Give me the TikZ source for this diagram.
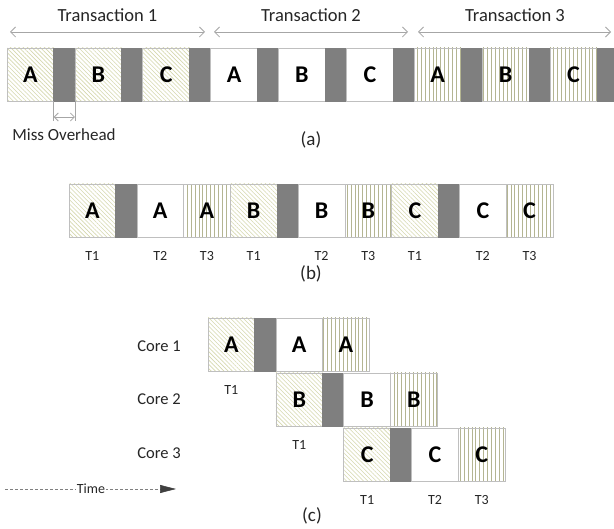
\documentclass[tikz,border=0pt]{standalone}
\usepackage{fontspec}
\setmainfont{Carlito}
\usetikzlibrary{arrows.meta,patterns.meta}

\definecolor{hatchc}{HTML}{D6D8AE}
\definecolor{stripec}{HTML}{B4B592}
\definecolor{missc}{HTML}{7F7F7F}
\definecolor{edgec}{HTML}{BFBFBF}
\definecolor{spanc}{HTML}{A6A6A6}
\definecolor{timec}{HTML}{808080}
\definecolor{tipc}{HTML}{404040}

\tikzset{
  blk/.style={draw=edgec, line width=0.8pt, minimum width=46.7pt, minimum height=53pt,
    anchor=north west, inner sep=0pt, outer sep=0pt,
    font=\fontsize{24}{24}\selectfont\bfseries},
  hatchblk/.style={blk, pattern={Lines[angle=-45,distance=3pt,line width=0.6pt]}, pattern color=hatchc},
  plainblk/.style={blk, fill=white},
  stripeblk/.style={blk, pattern={Lines[angle=90,distance=3.9pt,line width=0.7pt]}, pattern color=stripec},
  missblk/.style={blk, fill=missc, draw=missc, minimum width=21.2pt},
  spanarrow/.style={draw=spanc, line width=0.8pt,
    {Straight Barb[length=5pt,width=10pt]}-{Straight Barb[length=5pt,width=10pt]}},
  ticklink/.style={draw=spanc, line width=0.8pt},
  ttl/.style={font=\fontsize{18.5}{20}\selectfont, text=black!85},
  lbl/.style={font=\fontsize{17}{18}\selectfont, text=black!85},
  corelbl/.style={font=\fontsize{16.5}{18}\selectfont, text=black!85},
  tlbl/.style={font=\fontsize{14}{15}\selectfont, text=black!85},
  subcap/.style={font=\fontsize{19}{20}\selectfont, text=black!85},
}

\begin{document}
\begin{tikzpicture}[x=1pt,y=-1pt]
\useasboundingbox[fill=white] (0,0) rectangle (614,529);

% ---------- (a) three transactions run one after another ----------
\foreach \i/\t/\s in {0/A/hatchblk,1/B/hatchblk,2/C/hatchblk,
                      3/A/plainblk,4/B/plainblk,5/C/plainblk,
                      6/A/stripeblk,7/B/stripeblk,8/C/stripeblk}{
  \node[\s] (a\i) at ({7+67.9*\i},48) {\t};
  \node[missblk] (am\i) at ({53.7+67.9*\i},48) {};
}

\node[ttl] (tt1) at (107.5,15) {Transaction 1};
\node[ttl] (tt2) at (311,15) {Transaction 2};
\node[ttl] (tt3) at (515,15) {Transaction 3};
\coordinate (s1a) at (10,32);  \coordinate (s1b) at (205,32);
\coordinate (s2a) at (214,32); \coordinate (s2b) at (408,32);
\coordinate (s3a) at (418,32); \coordinate (s3b) at (611,32);
\draw[spanarrow] (s1a) -- (s1b);
\draw[spanarrow] (s2a) -- (s2b);
\draw[spanarrow] (s3a) -- (s3b);

% miss overhead marker
\draw[ticklink] (am0.south west) -- +(0,20);
\draw[ticklink] (am0.south east) -- +(0,20);
\draw[spanarrow, {Straight Barb[length=4pt,width=8pt]}-{Straight Barb[length=4pt,width=8pt]}]
  ([yshift=-16pt]am0.south west) -- ([yshift=-16pt]am0.south east);
\node[lbl] (mo) at (64,135) {Miss Overhead};
\node[subcap] (capa) at (311,140) {(a)};

% ---------- (b) interleaved on one core ----------
\foreach \g/\t in {0/A,1/B,2/C}{
  \pgfmathsetmacro{\xo}{69+161.3*\g}
  \node[hatchblk] (bh\g) at (\xo,184) {\t};
  \node[missblk] (bm\g) at (\xo+46.7,184) {};
  \node[plainblk] (bp\g) at (\xo+67.9,184) {\t};
  \node[stripeblk] (bs\g) at (\xo+114.6,184) {\t};
  \node[tlbl] at ([yshift=-19pt]bh\g.south) {T1};
  \node[tlbl] at ([yshift=-19pt]bp\g.south) {T2};
  \node[tlbl] at ([yshift=-19pt]bs\g.south) {T3};
}
\node[subcap] (capb) at (311,274) {(b)};

% ---------- (c) one transaction group per core ----------
\foreach \k/\t in {0/A,1/B,2/C}{
  \pgfmathsetmacro{\xo}{208+67.9*\k}
  \pgfmathsetmacro{\yo}{318+55*\k}
  \node[hatchblk] (ch\k) at (\xo,\yo) {\t};
  \node[missblk] (cm\k) at (\xo+46.7,\yo) {};
  \node[plainblk] (cp\k) at (\xo+67.9,\yo) {\t};
  \node[stripeblk] (cs\k) at (\xo+114.6,\yo) {\t};
  \node[tlbl] (ct\k) at ([yshift=-19pt]ch\k.south) {T1};
  \pgfmathtruncatemacro{\n}{\k+1}
  \node[corelbl] (core\k) at (159,{346+53.5*\k}) {Core \n};
}
\node[tlbl] (ct2b) at ([yshift=-19pt]cp2.south) {T2};
\node[tlbl] (ct2c) at ([yshift=-19pt]cs2.south) {T3};
\node[subcap] (capc) at (312,516) {(c)};

% time axis
\coordinate (tm0) at (5,489);
\coordinate (tm1) at (176,489);
\draw[timec, line width=0.6pt, dash pattern=on 3pt off 2pt,
      -{Triangle[length=16pt,width=8pt,fill=tipc,color=tipc]}] (tm0) -- (tm1);
\node[tlbl, fill=white, inner sep=1pt] (time) at (91,489) {Time};
\end{tikzpicture}
\end{document}
